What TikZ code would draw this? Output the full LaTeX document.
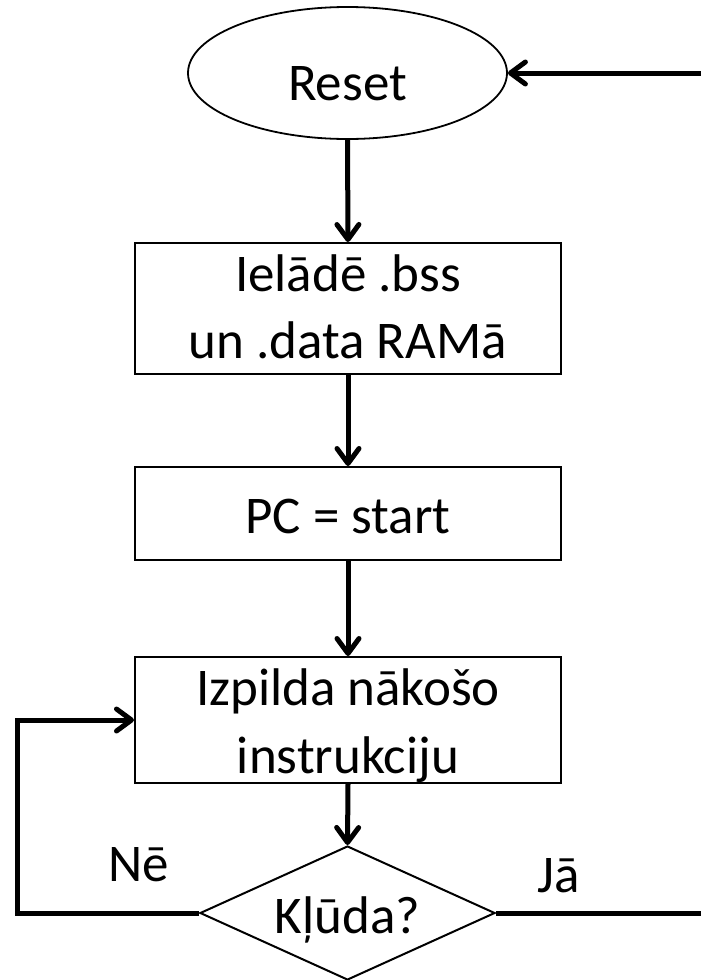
\documentclass[tikz,border=0pt]{standalone}
\usepackage{fontspec}
\setmainfont{Carlito}
\usetikzlibrary{shapes.geometric,arrows.meta}
\tikzset{
  conn/.style={line width=5pt,-{Straight Barb[length=15pt,width=22pt,round]}},
  plain/.style={line width=5pt},
  shapebox/.style={draw,line width=2pt,rectangle,minimum width=426pt,inner sep=0pt,align=center},
  lbl/.style={inner sep=0pt,anchor=base west},
}
\begin{document}
\begin{tikzpicture}[x=1pt,y=-1pt,font=\fontsize{53}{61}\selectfont]
\useasboundingbox (0,0) rectangle (701,980);
\node[draw,ellipse,line width=1.8pt,minimum width=319pt,minimum height=132pt,inner sep=0pt,text height=54pt,text depth=0pt] (reset) at (347.5,73) {Reset};
\node[shapebox,minimum height=131pt,text height=105pt,text depth=6pt] (load) at (348,308.5) {Ielādē .bss\\[6pt]un .data RAMā};
\node[shapebox,minimum height=93pt,text height=42pt,text depth=3pt] (pc) at (348,513.5) {PC = start};
\node[shapebox,minimum height=126pt,text height=112pt,text depth=6pt] (exec) at (348,720) {Izpilda nākošo\\[7pt]instrukciju};
\node[draw,diamond,aspect=2.2,line width=2pt,minimum width=295pt,minimum height=134pt,inner sep=0pt,text height=44pt,text depth=4pt] (err) at (347.5,913) {Kļūda?};
\coordinate (outbot) at (701,913);
\coordinate (outtop) at (701,73);
\node[lbl] (ne) at (108,881) {Nē};
\node[lbl] (ja) at (537,892) {Jā};
\draw[conn] (reset.south) -- (load.north);
\draw[conn] (load.south) -- (pc.north);
\draw[conn] (pc.south) -- (exec.north);
\draw[conn] (exec.south) -- (err.north);
\draw[conn,line join=miter] (err.west) -- (17,913) |- (exec.west);
\draw[plain] (err.east) -- (outbot);
\draw[conn] (outtop) -- (reset.east);
\end{tikzpicture}
\end{document}
